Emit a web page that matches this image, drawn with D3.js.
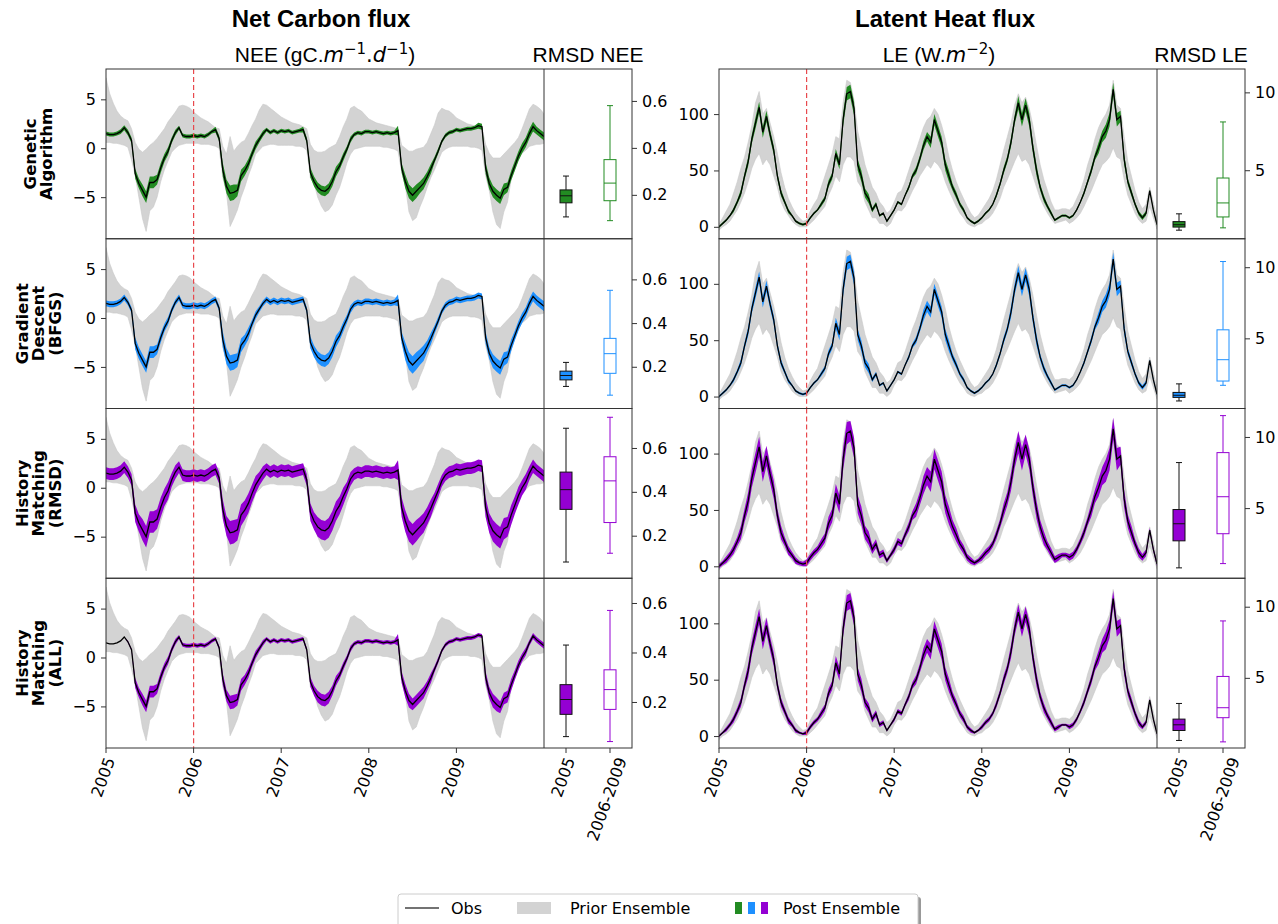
<!DOCTYPE html>
<html>
<head>
<meta charset="utf-8">
<script src="https://cdn.jsdelivr.net/npm/d3@7"></script>
<style>
body { margin: 0; background: #fff; }
svg text { fill: #000; }
</style>
</head>
<body>
<svg id="chart" width="1278" height="924"></svg>
<script>
// ---------------- data ----------------
var methodLabels = [["Genetic", "Algorithm"], ["Gradient", "Descent", "(BFGS)"], ["History", "Matching", "(RMSD)"], ["History", "Matching", "(ALL)"]];
var methodColors = ["#228b22", "#1e90ff", "#9400d3", "#9400d3"];
var yearTicks = [2005, 2006, 2007, 2008, 2009];
var boxTickLabels = ["2005", "2006-2009"];
var stepsPerYear = 24; // two samples per month

// NEE observations, 2005-01 .. 2010-01
var neeObs = [
  1.5,1.4,1.4,1.5,1.7,2.1,1.6,0.8,-2.6,-3.6,-4.3,-5.0,-3.5,-3.5,-3.2,-2.0,-1.0,-0.3,0.8,1.6,2.1,1.3,1.2,1.2,
  1.3,1.2,1.3,1.2,1.4,1.7,1.9,1.0,-2.2,-3.9,-4.6,-4.5,-4.3,-2.8,-2.3,-1.6,-0.6,0.3,0.9,1.5,1.9,1.6,1.8,1.6,
  1.8,1.7,1.8,1.6,1.7,1.8,1.9,0.8,-2.5,-3.4,-4.0,-4.3,-4.4,-4.1,-3.4,-2.4,-1.8,-0.9,-0.1,0.9,1.4,1.6,1.5,1.7,
  1.7,1.6,1.7,1.6,1.5,1.6,1.5,1.6,1.8,-2.0,-3.4,-4.4,-4.8,-4.4,-4.0,-3.6,-2.9,-2.1,-1.2,-0.3,0.7,1.3,1.6,1.7,
  1.9,1.8,1.9,2.0,2.0,2.1,2.3,2.2,-2.0,-3.6,-4.4,-4.8,-5.1,-4.2,-4.0,-2.8,-1.8,-0.8,0.0,0.6,1.5,2.2,1.8,1.5,
  1.2];
var neePriorHi = [
  7.2,5.6,4.6,3.8,3.3,3.0,2.8,2.0,0.6,-0.1,-0.4,-0.1,0.3,0.6,1.0,1.5,2.0,2.7,3.2,3.7,4.3,4.4,4.3,4.1,
  3.7,3.4,3.1,2.9,2.7,2.4,2.1,2.0,0.2,-0.6,1.2,-0.3,0.2,0.6,0.8,1.5,2.3,3.0,3.9,4.5,4.4,4.1,3.8,3.5,
  3.2,3.0,2.8,2.6,2.5,2.4,2.2,2.0,0.4,-0.2,-0.4,-0.4,-0.3,0.0,0.2,0.4,1.2,2.2,3.0,4.1,4.3,4.0,3.8,3.4,
  3.0,2.8,2.6,2.5,2.4,2.3,2.2,2.1,2.0,0.3,0.0,-0.3,-0.3,-0.1,0.0,0.1,0.6,1.5,2.4,3.6,4.1,3.9,3.8,3.5,
  3.1,2.9,2.7,2.5,2.4,2.3,2.3,2.2,0.4,-0.5,-1.0,-1.0,-1.0,-0.6,-0.2,0.2,0.6,1.1,2.0,3.0,4.0,4.5,4.3,4.0,
  3.5];
var neePriorLo = [
  0.6,0.6,0.5,0.5,0.4,0.3,0.1,-1.2,-2.8,-5.0,-7.2,-8.5,-6.4,-6.0,-5.0,-3.4,-2.2,-1.3,-0.4,0.0,0.3,0.4,0.5,0.5,
  0.5,0.5,0.4,0.4,0.4,0.3,0.2,0.0,-3.0,-4.5,-8.0,-7.2,-6.3,-5.0,-4.0,-2.8,-1.8,-0.6,-0.2,0.2,0.3,0.4,0.4,0.3,
  0.3,0.3,0.3,0.3,0.2,0.2,0.1,-0.2,-3.0,-3.6,-5.0,-5.9,-6.5,-6.3,-5.8,-4.8,-4.0,-2.8,-1.5,-0.6,-0.1,0.0,0.1,0.2,
  0.2,0.2,0.2,0.2,0.1,0.1,0.0,-0.1,-0.3,-2.4,-3.8,-6.5,-7.4,-7.1,-6.0,-5.1,-4.0,-3.0,-2.2,-1.3,-0.4,-0.1,0.1,0.2,
  0.2,0.2,0.2,0.2,0.1,0.1,0.0,-0.2,-2.8,-4.3,-6.5,-7.8,-8.2,-6.5,-5.5,-3.2,-2.1,-1.1,-0.5,-0.2,0.2,0.3,0.4,0.4,
  0.5];
// half-width of the posterior ensemble, one value per month
var neeSpreadGA = [
  0.2,0.2,0.25,0.3,0.5,0.6,0.6,0.5,0.4,0.3,0.2,0.2,
  0.2,0.2,0.2,0.3,0.7,0.8,0.6,0.5,0.4,0.3,0.2,0.2,
  0.2,0.2,0.2,0.3,0.5,0.5,0.5,0.5,0.4,0.3,0.2,0.2,
  0.2,0.2,0.2,0.2,0.5,0.7,0.7,0.6,0.5,0.3,0.2,0.2,
  0.2,0.2,0.2,0.3,0.6,0.6,0.6,0.5,0.5,0.5,0.5,0.4];
var neeSpreadBFGS = [
  0.3,0.3,0.3,0.3,0.6,0.6,0.6,0.5,0.4,0.3,0.3,0.3,
  0.3,0.3,0.3,0.3,0.8,0.8,0.7,0.6,0.4,0.3,0.3,0.3,
  0.3,0.3,0.3,0.3,0.6,0.6,0.6,0.6,0.5,0.4,0.3,0.3,
  0.3,0.3,0.3,0.3,0.6,0.9,0.9,0.8,0.6,0.4,0.3,0.3,
  0.3,0.3,0.3,0.3,0.6,0.7,0.7,0.6,0.5,0.5,0.5,0.5];
var neeSpreadHMRMSD = [
  0.6,0.6,0.6,0.6,0.9,1.1,1.1,1.0,0.9,0.7,0.6,0.6,
  0.6,0.6,0.6,0.6,1.0,1.2,1.1,1.0,0.9,0.7,0.6,0.6,
  0.6,0.6,0.6,0.6,0.9,1.0,1.0,1.0,0.9,0.7,0.6,0.6,
  0.6,0.6,0.6,0.6,1.0,1.1,1.1,1.0,0.9,0.7,0.6,0.6,
  0.6,0.6,0.6,0.6,1.0,1.1,1.1,1.0,0.9,0.8,0.7,0.6];
var neeSpreadHMALL = [
  0.0,0.0,0.0,0.1,0.5,0.6,0.6,0.5,0.4,0.3,0.2,0.2,
  0.2,0.2,0.2,0.2,0.6,0.7,0.6,0.5,0.4,0.3,0.2,0.2,
  0.2,0.2,0.2,0.2,0.5,0.6,0.6,0.5,0.4,0.3,0.2,0.2,
  0.2,0.2,0.2,0.2,0.6,0.7,0.6,0.6,0.5,0.3,0.2,0.2,
  0.2,0.2,0.2,0.2,0.6,0.7,0.6,0.6,0.5,0.4,0.3,0.3];

// LE observations
var leObs = [
  0,3,6,10,15,22,30,45,58,78,92,106,84,98,82,68,45,30,22,14,10,5,3,2,
  3,8,12,15,20,25,38,45,65,55,95,118,120,105,55,45,30,25,15,20,10,12,5,10,
  15,22,20,28,35,45,50,60,72,80,75,95,85,75,55,45,35,28,20,15,8,5,3,5,
  8,12,15,20,28,38,50,60,75,95,110,95,108,95,70,50,35,25,18,12,6,8,10,10,
  8,10,15,22,30,40,50,62,70,80,85,95,122,95,98,60,40,30,20,12,8,12,32,15,
  2];
var lePriorHi = [
  2,8,14,20,30,40,52,62,75,90,110,120,100,105,92,80,65,48,35,25,18,12,8,5,
  6,14,20,25,35,45,55,65,80,78,110,130,128,112,85,70,55,45,35,30,22,18,12,15,
  22,30,32,40,50,60,68,78,88,95,98,105,100,90,78,62,50,40,32,25,18,12,8,10,
  15,20,25,32,42,55,68,80,92,108,118,110,115,105,90,72,55,42,32,22,15,15,16,16,
  15,18,25,32,42,55,65,78,88,95,100,108,130,108,105,80,58,45,32,22,16,20,35,22,
  8];
var lePriorLo = [
  -3,0,2,5,10,15,22,30,40,52,60,65,55,60,55,45,35,22,15,10,5,2,0,0,
  0,3,6,10,14,18,28,35,45,40,55,62,62,58,40,35,22,15,8,8,3,3,0,3,
  10,15,14,18,25,32,38,45,50,55,52,58,55,50,40,32,25,18,12,8,3,1,0,2,
  3,6,8,12,18,25,35,42,50,58,65,58,60,55,45,35,25,18,12,7,3,4,5,6,
  3,5,8,12,18,25,32,40,48,55,58,62,70,62,60,42,28,20,12,6,3,5,18,8,
  -2];
var leSpreadGA = [
  1,1,2,3,4,5,5,4,3,2,1,1,
  1,1,2,3,4,6,6,5,4,2,1,1,
  1,1,2,3,4,5,5,5,3,2,1,1,
  1,1,2,3,4,6,6,5,3,2,1,1,
  1,1,2,3,5,6,6,5,3,2,2,1];
var leSpreadBFGS = [
  1,1,2,3,4,5,5,4,3,2,1,1,
  1,1,2,3,5,6,6,5,4,2,1,1,
  1,1,2,3,5,5,5,5,3,2,1,1,
  1,1,2,3,5,6,6,5,3,2,1,1,
  1,1,2,3,5,6,6,5,3,2,2,1];
var leSpreadHMRMSD = [
  2,3,4,6,8,9,9,8,6,4,3,2,
  3,3,4,6,8,10,9,8,6,4,3,2,
  3,3,4,6,8,9,9,8,6,4,3,2,
  3,3,4,6,8,10,9,8,6,4,3,2,
  3,3,4,6,8,10,10,8,6,4,3,2];
var leSpreadHMALL = [
  1,2,3,4,6,7,7,6,4,3,2,1,
  2,2,3,4,6,7,7,6,4,3,2,1,
  2,2,3,4,6,7,7,6,4,3,2,1,
  2,2,3,4,6,7,7,6,4,3,2,1,
  2,2,3,4,6,8,7,6,4,3,2,1];

// RMSD box stats: [whisker low, q1, median, q3, whisker high] for 2005 and 2006-2009
var neeBoxGA = [[0.106,0.166,0.196,0.221,0.28], [0.09,0.175,0.25,0.35,0.58]];
var neeBoxBFGS = [[0.11,0.14,0.16,0.18,0.22], [0.07,0.17,0.26,0.33,0.55]];
var neeBoxHMRMSD = [[0.08,0.32,0.41,0.49,0.69], [0.12,0.26,0.45,0.56,0.74]];
var neeBoxHMALL = [[0.06,0.15,0.21,0.27,0.43], [0.04,0.17,0.25,0.33,0.57]];
var leBoxGA = [[1.15,1.35,1.5,1.7,2.2], [1.3,2.0,2.9,4.5,8.1]];
var leBoxBFGS = [[0.6,0.85,1.0,1.2,1.8], [1.7,2.0,3.5,5.6,10.4]];
var leBoxHMRMSD = [[0.8,2.7,3.9,4.9,8.2], [1.1,3.2,5.8,8.9,11.5]];
var leBoxHMALL = [[0.6,1.3,1.7,2.1,3.2], [0.5,2.2,2.9,5.1,9.0]];

var neeYDomain = [-9.25, 8.1];
var leYDomain = [-10.6, 140];
var neeTicks = [-5, 0, 5];
var leTicks = [0, 50, 100];
var neeBoxDomains = [[0.013,0.736], [0.009,0.786], [0.006,0.78], [0.014,0.70]];
var leBoxDomains = [[0.6,11.5], [0.07,12.0], [0.07,12.0], [0.07,12.0]];
var neeBoxTicks = [0.2, 0.4, 0.6];
var leBoxTicks = [5, 10];

// ---------------- layout ----------------
var svg = d3.select("#chart");
var rowTop = 69, rowH = (748 - 69) / 4;
var priorColor = "#d3d3d3";
var tickFont = "DejaVu Sans, sans-serif";
var titleFont = "Liberation Sans, Arial, sans-serif";

var variables = [
  {
    key: "nee", tsX: [106, 544], boxX: [544, 632],
    obs: neeObs, lo: neePriorLo, hi: neePriorHi,
    spreads: [neeSpreadGA, neeSpreadBFGS, neeSpreadHMRMSD, neeSpreadHMALL],
    boxes: [neeBoxGA, neeBoxBFGS, neeBoxHMRMSD, neeBoxHMALL],
    yDomain: neeYDomain, yTicks: neeTicks,
    boxDomains: neeBoxDomains, boxTicks: neeBoxTicks,
    boxFormat: d3.format(".1f")
  },
  {
    key: "le", tsX: [719, 1157], boxX: [1157, 1245],
    obs: leObs, lo: lePriorLo, hi: lePriorHi,
    spreads: [leSpreadGA, leSpreadBFGS, leSpreadHMRMSD, leSpreadHMALL],
    boxes: [leBoxGA, leBoxBFGS, leBoxHMRMSD, leBoxHMALL],
    yDomain: leYDomain, yTicks: leTicks,
    boxDomains: leBoxDomains, boxTicks: leBoxTicks,
    boxFormat: d3.format("d")
  }
];

var times = neeObs.map(function(d, i) { return 2005 + i / stepsPerYear; });
var minus = function(d) { return d < 0 ? "\u2212" + Math.abs(d) : String(d); };

function rotatedLabel(g, x, yTop, txt) {
  var t = g.append("text")
    .style("font-family", tickFont)
    .attr("font-size", 16)
    .attr("text-anchor", "middle")
    .attr("dominant-baseline", "central")
    .text(txt);
  var L = t.node().getComputedTextLength();
  var a = 70 * Math.PI / 180;
  var h = L * Math.sin(a) + 12 * Math.cos(a);
  t.attr("transform", "translate(" + x + "," + (yTop + h / 2) + ") rotate(-70)");
}

function styleAxis(g) {
  g.select(".domain").remove();
  g.selectAll(".tick line").attr("stroke", "#333");
  g.selectAll(".tick text").attr("font-size", 16).attr("fill", "#000")
    .style("font-family", tickFont);
}

variables.forEach(function(v, vi) {
  var x = d3.scaleLinear().domain([2005, 2010]).range(v.tsX);
  var xb = d3.scaleLinear().domain([0.5, 2.5]).range(v.boxX);

  for (var r = 0; r < 4; r++) {
    var y0 = rowTop + r * rowH, y1 = y0 + rowH;
    var y = d3.scaleLinear().domain(v.yDomain).range([y1, y0]);
    var yb = d3.scaleLinear().domain(v.boxDomains[r]).range([y1, y0]);
    var spread = v.spreads[r];
    var color = methodColors[r];

    var clipId = "clip-" + v.key + r;
    svg.append("clipPath").attr("id", clipId)
      .append("rect").attr("x", v.tsX[0]).attr("y", y0)
      .attr("width", v.tsX[1] - v.tsX[0]).attr("height", rowH);

    var g = svg.append("g").attr("clip-path", "url(#" + clipId + ")");

    var prior = d3.area()
      .x(function(d, i) { return x(times[i]); })
      .y0(function(d, i) { return y(v.lo[i]); })
      .y1(function(d, i) { return y(v.hi[i]); });
    g.append("path").datum(v.obs).attr("d", prior)
      .attr("fill", priorColor).attr("stroke", "#c9c9c9").attr("stroke-width", 0.6);

    var post = d3.area()
      .x(function(d, i) { return x(times[i]); })
      .y0(function(d, i) { return y(d - spread[Math.min(spread.length - 1, Math.floor(i / 2))]); })
      .y1(function(d, i) { return y(d + spread[Math.min(spread.length - 1, Math.floor(i / 2))]); });
    g.append("path").datum(v.obs).attr("d", post).attr("fill", color);

    var line = d3.line()
      .x(function(d, i) { return x(times[i]); })
      .y(function(d) { return y(d); });
    g.append("path").datum(v.obs).attr("d", line)
      .attr("fill", "none").attr("stroke", "#000").attr("stroke-width", 1.3);

    // calibration / validation split
    svg.append("line")
      .attr("x1", x(2006)).attr("x2", x(2006)).attr("y1", y0).attr("y2", y1)
      .attr("stroke", "#e8494e").attr("stroke-width", 1.2).attr("stroke-dasharray", "5,3");

    // frames
    svg.append("rect").attr("x", v.tsX[0]).attr("y", y0)
      .attr("width", v.boxX[1] - v.tsX[0]).attr("height", rowH)
      .attr("fill", "none").attr("stroke", "#333").attr("stroke-width", 1);
    svg.append("line").attr("x1", v.boxX[0]).attr("x2", v.boxX[0]).attr("y1", y0).attr("y2", y1)
      .attr("stroke", "#333").attr("stroke-width", 1);

    svg.append("g").attr("transform", "translate(" + v.tsX[0] + ",0)")
      .call(d3.axisLeft(y).tickValues(v.yTicks).tickSize(5).tickPadding(5).tickFormat(minus))
      .call(styleAxis);

    svg.append("g").attr("transform", "translate(" + v.boxX[1] + ",0)")
      .call(d3.axisRight(yb).tickValues(v.boxTicks).tickSize(5).tickPadding(5).tickFormat(v.boxFormat))
      .call(styleAxis);

    // box plots
    var bw = 12;
    v.boxes[r].forEach(function(s, j) {
      var cx = xb(j + 1);
      var edge = j == 0 ? "#111" : color;
      var bg = svg.append("g");
      bg.append("line").attr("x1", cx).attr("x2", cx).attr("y1", yb(s[0])).attr("y2", yb(s[1]))
        .attr("stroke", edge).attr("stroke-width", 1);
      bg.append("line").attr("x1", cx).attr("x2", cx).attr("y1", yb(s[3])).attr("y2", yb(s[4]))
        .attr("stroke", edge).attr("stroke-width", 1);
      [s[0], s[4]].forEach(function(c) {
        bg.append("line").attr("x1", cx - bw / 4).attr("x2", cx + bw / 4).attr("y1", yb(c)).attr("y2", yb(c))
          .attr("stroke", edge).attr("stroke-width", 1);
      });
      bg.append("rect").attr("x", cx - bw / 2).attr("width", bw)
        .attr("y", yb(s[3])).attr("height", yb(s[1]) - yb(s[3]))
        .attr("fill", j == 0 ? color : "#fff").attr("stroke", edge).attr("stroke-width", 1);
      bg.append("line").attr("x1", cx - bw / 2).attr("x2", cx + bw / 2).attr("y1", yb(s[2])).attr("y2", yb(s[2]))
        .attr("stroke", edge).attr("stroke-width", 1);
    });

    // method labels on the left
    if (vi == 0) {
      var lines = methodLabels[r];
      var lab = svg.append("text")
        .attr("transform", "translate(38," + (y0 + rowH / 2) + ") rotate(-90)")
        .style("font-family", tickFont)
        .attr("text-anchor", "middle").attr("font-size", 16.5).attr("font-weight", "bold");
      lines.forEach(function(s, k) {
        lab.append("tspan").attr("x", 0)
          .attr("y", (k - (lines.length - 1) / 2) * 16.5 + 6).text(s);
      });
    }
  }

  // bottom x axes
  var yB = rowTop + 4 * rowH;
  var xg = svg.append("g");
  yearTicks.forEach(function(t) {
    xg.append("line").attr("x1", x(t)).attr("x2", x(t)).attr("y1", yB).attr("y2", yB + 5).attr("stroke", "#333");
    rotatedLabel(xg, x(t) - 3, yB + 8, String(t));
  });
  boxTickLabels.forEach(function(s, j) {
    var cx = xb(j + 1);
    xg.append("line").attr("x1", cx).attr("x2", cx).attr("y1", yB).attr("y2", yB + 5).attr("stroke", "#333");
    rotatedLabel(xg, cx - 3, yB + 8, s);
  });
});

// ---------------- titles ----------------
svg.append("text").attr("x", 321).attr("y", 27).attr("text-anchor", "middle")
  .style("font-family", titleFont).attr("font-size", 24).attr("font-weight", "bold").text("Net Carbon flux");
svg.append("text").attr("x", 945).attr("y", 27).attr("text-anchor", "middle")
  .style("font-family", titleFont).attr("font-size", 24).attr("font-weight", "bold").text("Latent Heat flux");

// unit titles: plain part in Arial-like font, math part in DejaVu (like mathtext)
function unitTitle(x, parts) {
  var t = svg.append("text").attr("x", x).attr("y", 62).attr("text-anchor", "middle")
    .style("font-family", titleFont).attr("font-size", 21);
  parts.forEach(function(p) {
    var s = t.append("tspan").text(p.t);
    if (p.math) s.style("font-family", tickFont);
    if (p.it) s.attr("font-style", "italic");
    if (p.sup) s.attr("font-size", 15).attr("dy", -8);
    if (p.down) s.attr("dy", 8);
  });
}
unitTitle(325, [{t: "NEE (gC."}, {t: "m", it: true, math: true}, {t: "\u22121", sup: true, math: true},
  {t: ".", down: true, math: true}, {t: "d", it: true, math: true}, {t: "\u22121", sup: true, math: true},
  {t: ")", down: true}]);
unitTitle(939, [{t: "LE (W."}, {t: "m", it: true, math: true}, {t: "\u22122", sup: true, math: true},
  {t: ")", down: true}]);
svg.append("text").attr("x", 588).attr("y", 62).attr("text-anchor", "middle")
  .style("font-family", titleFont).attr("font-size", 21).text("RMSD NEE");
svg.append("text").attr("x", 1201).attr("y", 62).attr("text-anchor", "middle")
  .style("font-family", titleFont).attr("font-size", 21).text("RMSD LE");

// ---------------- legend ----------------
var leg = svg.append("g").style("font-family", tickFont);
leg.append("rect").attr("x", 401).attr("y", 897).attr("width", 520).attr("height", 40).attr("rx", 3)
  .attr("fill", "#999");
leg.append("rect").attr("x", 398).attr("y", 894).attr("width", 520).attr("height", 40).attr("rx", 3)
  .attr("fill", "#fff").attr("stroke", "#ccc");
leg.append("line").attr("x1", 405).attr("x2", 439).attr("y1", 908).attr("y2", 908)
  .attr("stroke", "#444").attr("stroke-width", 1.3);
leg.append("text").attr("x", 451).attr("y", 914).attr("font-size", 16).text("Obs");
leg.append("rect").attr("x", 517).attr("y", 902).attr("width", 34).attr("height", 12).attr("fill", priorColor);
leg.append("text").attr("x", 570).attr("y", 914).attr("font-size", 16).text("Prior Ensemble");
["#228b22", "#1e90ff", "#9400d3"].forEach(function(c, i) {
  leg.append("rect").attr("x", 735 + i * 13).attr("y", 902).attr("width", 7).attr("height", 12).attr("fill", c);
});
leg.append("text").attr("x", 783).attr("y", 914).attr("font-size", 16).text("Post Ensemble");
</script>
</body>
</html>
